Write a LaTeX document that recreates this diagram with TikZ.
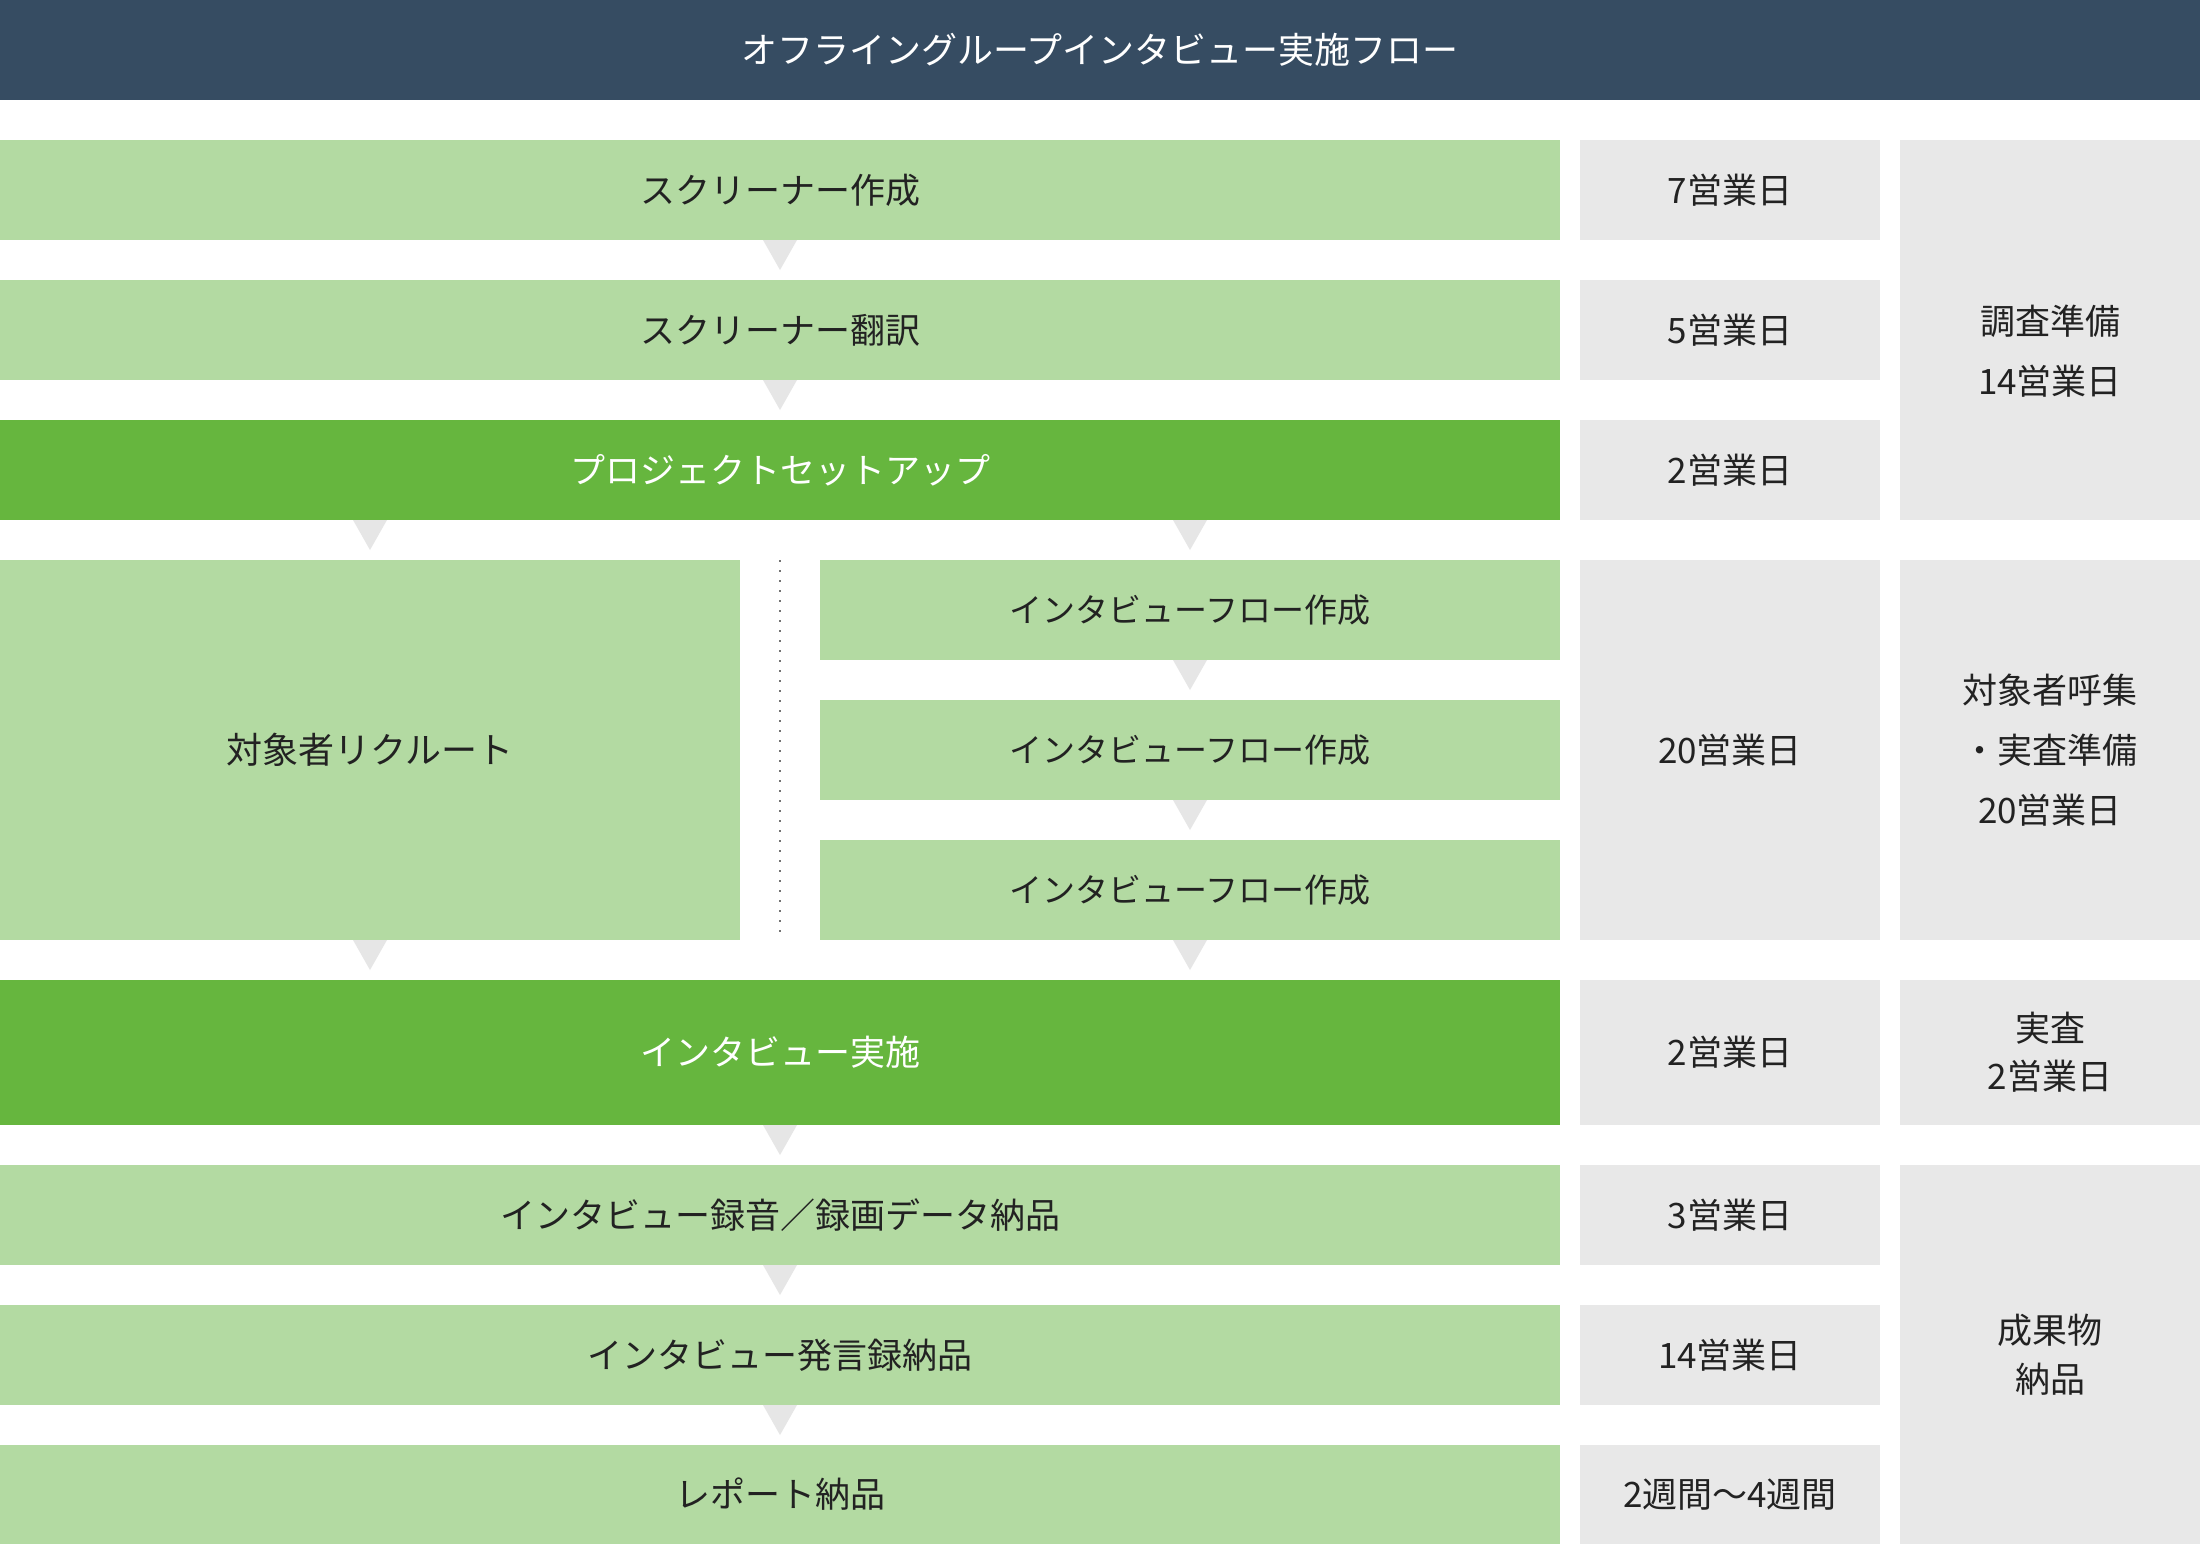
\documentclass[tikz,border=0pt]{standalone}
\usepackage{fontspec}
\setmainfont{Noto Sans CJK JP}
\usetikzlibrary{calc}
\definecolor{hdr}{HTML}{364C62}
\definecolor{lg}{HTML}{B3DAA2}
\definecolor{dg}{HTML}{66B63E}
\definecolor{gy}{HTML}{E8E8E8}
\definecolor{ar}{HTML}{E6E6E6}
\definecolor{tx}{HTML}{222222}
\newcommand\downtri[1]{\fill[ar] ($(#1)+(-17,0)$) -- ($(#1)+(17,0)$) -- ($(#1)+(0,30)$) -- cycle;}
\begin{document}
\begin{tikzpicture}[x=1pt,y=-1pt,
  base/.style={anchor=north west, inner sep=0pt, outer sep=0pt, text=tx, align=center,
    font=\fontsize{35pt}{48pt}\selectfont},
  lbox/.style={base, fill=lg},
  dbox/.style={base, fill=dg, text=white},
  gbox/.style={base, fill=gy},
  wide/.style={minimum width=1560pt},
  half/.style={minimum width=740pt},
  col/.style={minimum width=300pt},
  h100/.style={minimum height=100pt},
  flowtxt/.style={font=\fontsize{33pt}{48pt}\selectfont},
  dotline/.style={line width=1.5pt, dash pattern=on 1.5pt off 8.5pt, draw=black!55}
]
\useasboundingbox (0,0) rectangle (2200,1544);
\fill[white] (0,0) rectangle (2200,1544);
% header
\node[base, fill=hdr, text=white, minimum width=2200pt, minimum height=100pt, font=\fontsize{36pt}{48pt}\selectfont] (hd) at (0,0) {オフライングループインタビュー実施フロー};
% main column
\node[lbox, wide, h100] (s1) at (0,140) {スクリーナー作成};
\node[lbox, wide, h100] (s2) at (0,280) {スクリーナー翻訳};
\node[dbox, wide, h100] (s3) at (0,420) {プロジェクトセットアップ};
\node[lbox, half, minimum height=380pt, font=\fontsize{36pt}{48pt}\selectfont] (rec) at (0,560) {対象者リクルート};
\node[lbox, half, h100, flowtxt] (f1) at (820,560) {インタビューフロー作成};
\node[lbox, half, h100, flowtxt] (f2) at (820,700) {インタビューフロー作成};
\node[lbox, half, h100, flowtxt] (f3) at (820,840) {インタビューフロー作成};
\node[dbox, wide, minimum height=145pt] (s5) at (0,980) {インタビュー実施};
\node[lbox, wide, h100] (s6) at (0,1165) {インタビュー録音／録画データ納品};
\node[lbox, wide, h100] (s7) at (0,1305) {インタビュー発言録納品};
\node[lbox, wide, minimum height=99pt] (s8) at (0,1445) {レポート納品};
% durations
\node[gbox, col, h100] (d1) at (1580,140) {7営業日};
\node[gbox, col, h100] (d2) at (1580,280) {5営業日};
\node[gbox, col, h100] (d3) at (1580,420) {2営業日};
\node[gbox, col, minimum height=380pt] (d4) at (1580,560) {20営業日};
\node[gbox, col, minimum height=145pt] (d5) at (1580,980) {2営業日};
\node[gbox, col, h100] (d6) at (1580,1165) {3営業日};
\node[gbox, col, h100] (d7) at (1580,1305) {14営業日};
\node[gbox, col, minimum height=99pt] (d8) at (1580,1445) {2週間〜4週間};
% phases
\node[gbox, col, minimum height=380pt] (g1) at (1900,140) {};
\node[text=tx, align=center, inner sep=0pt, font=\fontsize{35pt}{60pt}\selectfont] (g1t) at ($(g1.center)+(0,21)$) {調査準備\\14営業日};
\node[gbox, col, minimum height=380pt, font=\fontsize{35pt}{60pt}\selectfont] (g2) at (1900,560) {対象者呼集\\・実査準備\\20営業日};
\node[gbox, col, minimum height=145pt] (g3) at (1900,980) {実査\\2営業日};
\node[gbox, col, minimum height=379pt, font=\fontsize{35pt}{49pt}\selectfont] (g4) at (1900,1165) {成果物\\納品};
% dotted separator
\draw[dotline] ($(rec.north east)!0.5!(f1.north west)$) -- ($(rec.south east)!0.5!(f3.south west)$);
% arrows
\coordinate (a3l) at (s3.south -| rec.north);
\coordinate (a3r) at (s3.south -| f1.north);
\downtri{s1.south}
\downtri{s2.south}
\downtri{a3l}
\downtri{a3r}
\downtri{f1.south}
\downtri{f2.south}
\downtri{f3.south}
\downtri{rec.south}
\downtri{s5.south}
\downtri{s6.south}
\downtri{s7.south}
\end{tikzpicture}
\end{document}
